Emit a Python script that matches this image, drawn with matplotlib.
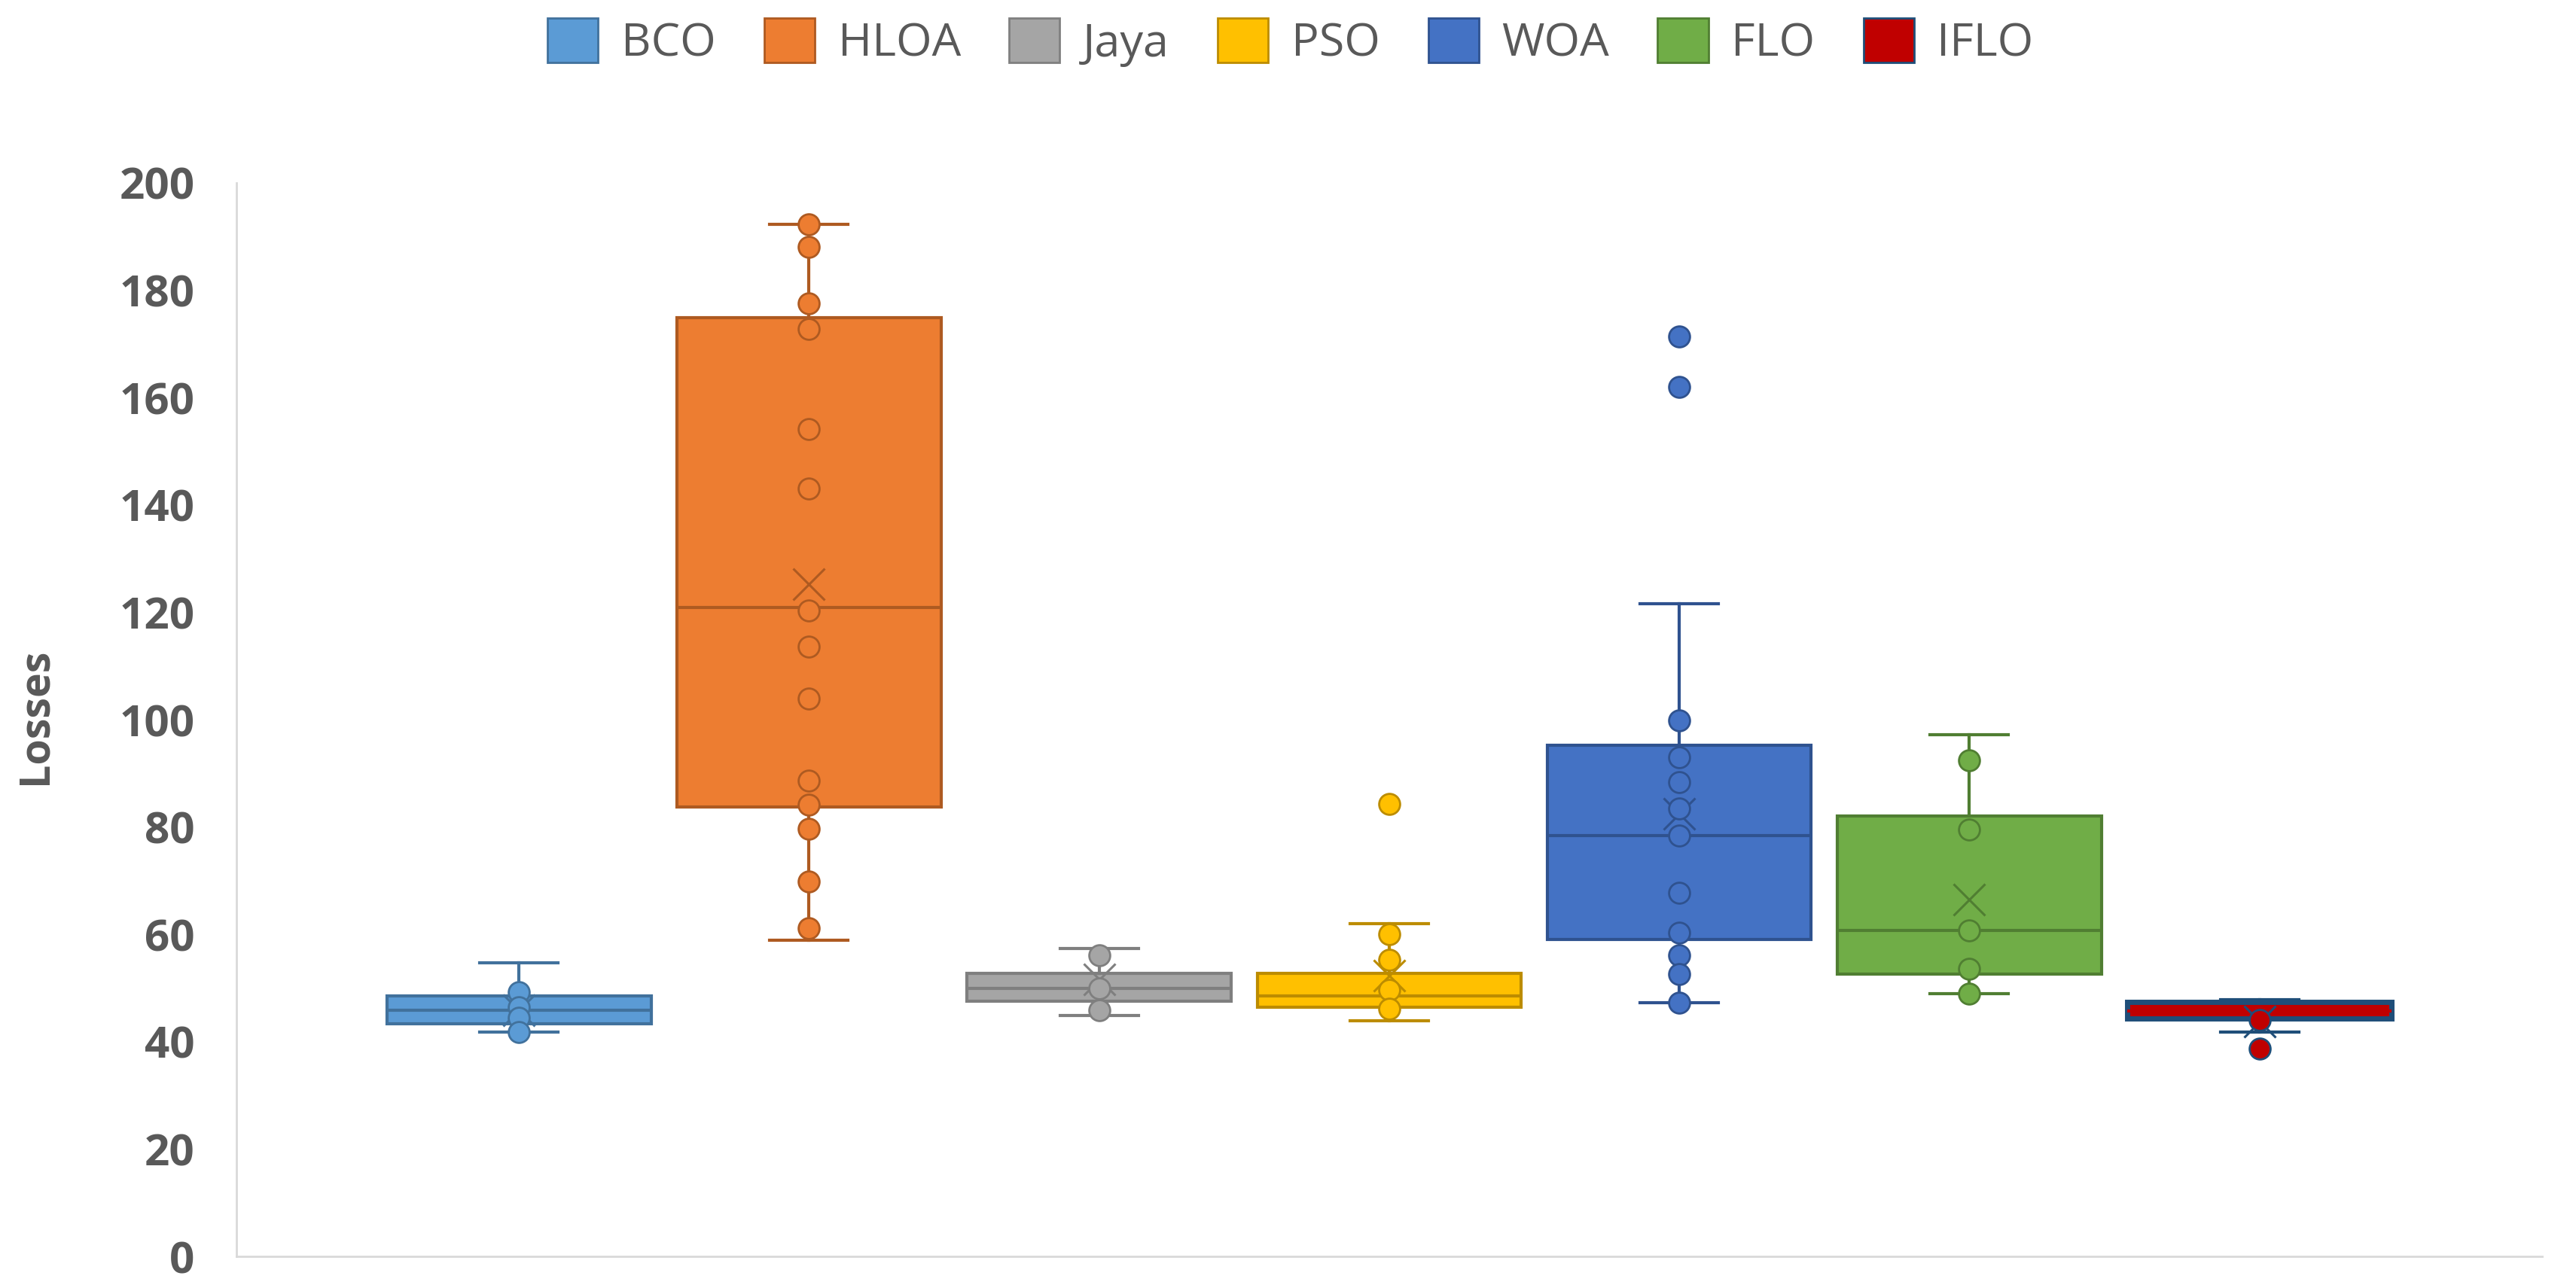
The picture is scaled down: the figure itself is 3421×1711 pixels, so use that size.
import matplotlib
matplotlib.use("Agg")
import matplotlib.pyplot as plt
from matplotlib.patches import Patch

plt.rcParams['font.family'] = ['Open Sans', 'DejaVu Sans']

names = ['BCO', 'HLOA', 'Jaya', 'PSO', 'WOA', 'FLO', 'IFLO']

# box statistics
q1 = [43.3, 83.8, 47.6, 46.5, 59.1, 52.6, 44.3]
median = [45.9, 120.9, 49.9, 48.5, 78.4, 60.8, 45.7]
q3 = [48.5, 174.9, 52.7, 52.7, 95.3, 82.0, 47.4]
whisker_low = [41.8, 58.9, 44.9, 43.9, 47.3, 48.9, 41.8]
whisker_high = [54.7, 192.3, 57.3, 62.0, 121.6, 97.2, 47.8]
means = [45.8, 125.3, 51.6, 52.3, 82.5, 66.5, 43.8]

# individual points shown on each box
points = [
    [49.3, 46.5, 44.5, 41.8],
    [192.3, 188.1, 177.6, 172.8, 154.2, 143.1, 120.3, 113.6, 103.9, 88.6, 84.1, 79.7, 69.9, 61.2],
    [56.1, 50.0, 45.9],
    [84.3, 60.1, 55.3, 49.6, 46.2],
    [171.4, 162.0, 99.9, 93.0, 88.4, 83.4, 78.4, 67.8, 60.3, 56.1, 52.6, 47.3],
    [92.4, 79.5, 60.8, 53.6, 48.9],
    [44.0, 38.7],
]

fills = ['#5B9BD5', '#ED7D31', '#A5A5A5', '#FFC000', '#4472C4', '#70AD47', '#C00000']
edges = ['#41719C', '#AE5A21', '#7F7F7F', '#BC8C00', '#2F528F', '#507E32', '#1F4E79']

fig = plt.figure(figsize=(34.21, 17.11), dpi=100)
ax = fig.add_axes([0.0918, 0.0245, 0.895, 0.8335])

for i in range(len(names)):
    st = dict(label=names[i], q1=q1[i], med=median[i], q3=q3[i],
              whislo=whisker_low[i], whishi=whisker_high[i], mean=means[i], fliers=[])
    lw = 5 if names[i] == 'IFLO' else 3
    med_col = fills[i] if names[i] == 'IFLO' else edges[i]
    ax.bxp([st], positions=[i], widths=0.91, capwidths=0.27, patch_artist=True,
           showmeans=True, showfliers=False,
           boxprops=dict(facecolor=fills[i], edgecolor=edges[i], linewidth=lw),
           whiskerprops=dict(color=edges[i], linewidth=3),
           capprops=dict(color=edges[i], linewidth=3),
           medianprops=dict(color=med_col, linewidth=3),
           meanprops=dict(marker='x', markersize=30, markeredgecolor=edges[i],
                          markeredgewidth=2.2, markerfacecolor='none'),
           zorder=2)
    ax.plot([i] * len(points[i]), points[i], linestyle='none', marker='o', markersize=20,
            markerfacecolor=fills[i], markeredgecolor=edges[i], markeredgewidth=2, zorder=3)

ax.set_xlim(-0.974, 6.974)
ax.set_ylim(0, 200)
ax.set_yticks(range(0, 201, 20))
ax.set_xticks([])
ax.tick_params(axis='y', length=0, pad=40, labelsize=42, labelcolor='#595959')
for lab in ax.get_yticklabels():
    lab.set_fontweight('bold')

for s in ['top', 'right']:
    ax.spines[s].set_visible(False)
for s in ['left', 'bottom']:
    ax.spines[s].set_color('#D9D9D9')
    ax.spines[s].set_linewidth(2)

fig.text(0.0137, 0.444, 'Losses', rotation=90, ha='center', va='center',
         fontsize=40, fontweight='bold', color='#595959')

handles = [Patch(facecolor=fills[i], edgecolor=edges[i], linewidth=2, label=names[i])
           for i in range(len(names))]
fig.legend(handles=handles, loc='center', bbox_to_anchor=(0.501, 0.967), ncol=7,
           frameon=False, fontsize=44, labelcolor='#595959', handlelength=1.1,
           handleheight=1.1, handletextpad=0.5, columnspacing=1.05)

fig.savefig('out.png', dpi=100)
